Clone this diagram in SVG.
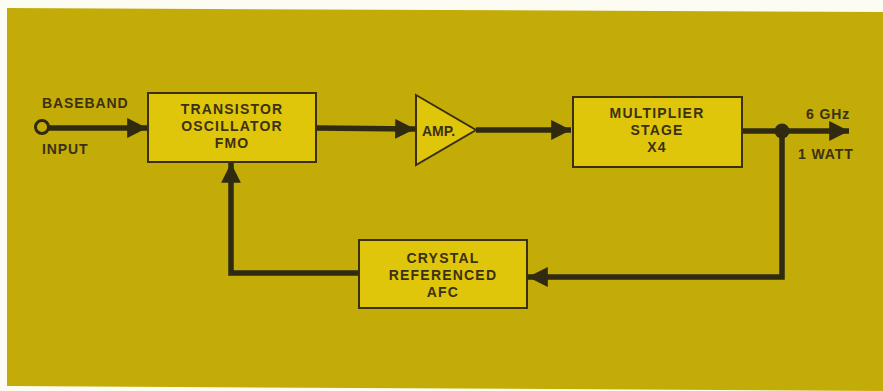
<svg xmlns="http://www.w3.org/2000/svg" width="883" height="391" viewBox="0 0 883 391">
<style>
.box{fill:#e0c60a;stroke:#3a3010;stroke-width:2}
.t{font-family:"Liberation Sans",Arial,sans-serif;font-weight:bold;font-size:14px;fill:#3b3112;letter-spacing:1.2px;text-anchor:middle}
.l{font-family:"Liberation Sans",Arial,sans-serif;font-weight:bold;font-size:14px;fill:#3b3112;letter-spacing:0.9px}
.w{fill:none;stroke:#2f2a10;stroke-width:5.5}
</style>
<defs>
<marker id="ah" viewBox="0 0 10 10" refX="10" refY="5" markerWidth="3.6" markerHeight="3.6" orient="auto" markerUnits="strokeWidth">
<path d="M0,0 L10,5 L0,10 Z" fill="#2f2a10"/>
</marker>
</defs>
<rect width="883" height="391" fill="#fdfcf2"/>
<path d="M7,8 L883,12 L883,391 L7,386 Z" fill="#c3ab08"/>
<g id="connectors">
<path class="w" d="M49,128 L147,128" marker-end="url(#ah)"/>
<circle cx="42" cy="127" r="6.5" fill="none" stroke="#2f2a10" stroke-width="3"/>
<path class="w" d="M316,128 L415,129" marker-end="url(#ah)"/>
<path class="w" d="M476,130 L571,130" marker-end="url(#ah)"/>
<path class="w" d="M742,131 L849,131" marker-end="url(#ah)"/>
<circle cx="782" cy="131" r="7.5" fill="#2f2a10"/>
<path class="w" d="M782,131 L782,277 L528,277" marker-end="url(#ah)"/>
<path class="w" d="M359,273 L231,273 L231,163" marker-end="url(#ah)"/>
</g>
<g id="input-labels">
<text class="l" x="42" y="108">BASEBAND</text>
<text class="l" x="42" y="154">INPUT</text>
</g>
<g id="output-labels">
<text class="l" x="806" y="119">6 GHz</text>
<text class="l" x="798" y="159">1 WATT</text>
</g>
<g id="oscillator">
<rect class="box" x="148" y="93" width="168" height="69"/>
<text class="t" x="232" y="114">TRANSISTOR</text>
<text class="t" x="232" y="131">OSCILLATOR</text>
<text class="t" x="232" y="148">FMO</text>
</g>
<g id="amp">
<path d="M416,95 L476,130 L416,165 Z" fill="#e0c60a" stroke="#3a3010" stroke-width="2"/>
<text class="l" x="422" y="136" style="letter-spacing:0">AMP.</text>
</g>
<g id="multiplier">
<rect class="box" x="573" y="97" width="169" height="70"/>
<text class="t" x="657" y="118">MULTIPLIER</text>
<text class="t" x="657" y="135">STAGE</text>
<text class="t" x="657" y="152">X4</text>
</g>
<g id="afc">
<rect class="box" x="359" y="240" width="168" height="68"/>
<text class="t" x="443" y="263">CRYSTAL</text>
<text class="t" x="443" y="280">REFERENCED</text>
<text class="t" x="443" y="297">AFC</text>
</g>
</svg>
